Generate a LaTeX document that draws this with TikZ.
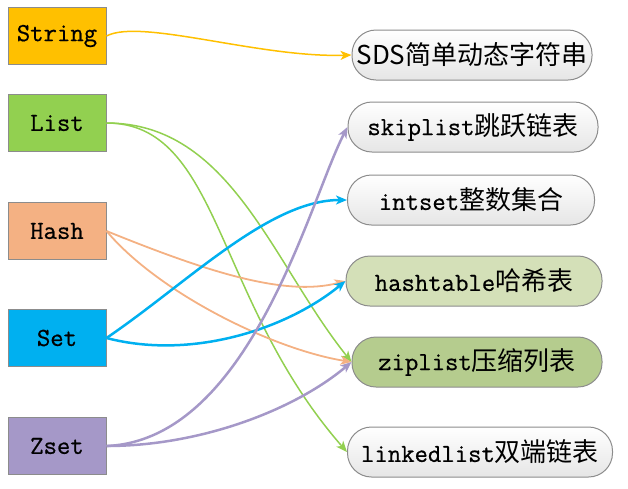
\documentclass[tikz,border=0pt]{standalone}
\usepackage{fontspec}
\newfontfamily\cjk{Noto Sans CJK SC}
\newfontfamily\latfont{Latin Modern Mono}[FakeBold=0.6]
\usetikzlibrary{arrows.meta}

\definecolor{strcol}{HTML}{FFC000}
\definecolor{listcol}{HTML}{92D050}
\definecolor{hashcol}{HTML}{F4B183}
\definecolor{setcol}{HTML}{00B0F0}
\definecolor{zsetcol}{HTML}{A598C8}
\definecolor{htcol}{HTML}{D4E0B8}
\definecolor{zlcol}{HTML}{B5CC8E}
\definecolor{edgecol}{HTML}{8C8C8C}

\tikzset{
  typebox/.style={draw=edgecol, line width=1pt, minimum width=98pt, minimum height=57pt,
    inner sep=0pt, font=\fontsize{26}{30}\selectfont\latfont},
  encpill/.style={draw=edgecol, line width=1pt, rounded corners=24pt, minimum height=50pt,
    inner sep=0pt, font=\fontsize{26}{30}\selectfont\latfont},
  greypill/.style={encpill, top color=white, bottom color=black!10},
  link/.style={line width=1.8pt, -{Stealth[length=11pt,width=9pt,inset=3pt]}},
  thicklink/.style={link, line width=2.5pt},
}

\begin{document}
\begin{tikzpicture}[x=1pt, y=-1pt]

  \useasboundingbox (0,0) rectangle (628,488);

  % data types
  \node[typebox, fill=strcol]  (string) at (57,36)  {String};
  \node[typebox, fill=listcol] (list)   at (57,123) {List};
  \node[typebox, fill=hashcol] (hash)   at (57,231) {Hash};
  \node[typebox, fill=setcol]  (set)    at (57,338) {Set};
  \node[typebox, fill=zsetcol] (zset)   at (57,446) {Zset};

  % encodings
  \node[greypill, minimum width=240pt] (sds)      at (472,55)  {{\cjk SDS简单动态字符串}};
  \node[greypill, minimum width=250pt] (skiplist) at (473,127) {skiplist{\cjk 跳跃链表}};
  \node[greypill, minimum width=247pt] (intset)   at (471,200) {intset{\cjk 整数集合}};
  \node[encpill, fill=htcol, minimum width=256pt] (hashtable) at (474,281) {hashtable{\cjk 哈希表}};
  \node[encpill, fill=zlcol, minimum width=250pt] (ziplist)   at (477,362) {ziplist{\cjk 压缩列表}};
  \node[greypill, minimum width=265pt] (linkedlist) at (480,452) {linkedlist{\cjk 双端链表}};

  % connectors
  \draw[link, strcol, line width=1.5pt] (string.east) .. controls +(34,-18) and +(-92,3) .. (sds.west);

  \draw[link, listcol, line width=1.5pt] (list.east) .. controls +(124,0) and +(-80,-100) .. (ziplist.west);
  \draw[link, listcol, line width=1.5pt] (list.east) .. controls +(114,0) and +(-133,-152) .. (linkedlist.west);

  \draw[link, hashcol] (hash.east) .. controls +(101,41) and +(-60,16) .. (hashtable.west);
  \draw[link, hashcol] (hash.east) .. controls +(51,61) and +(-80,-13) .. (ziplist.west);

  \draw[thicklink, setcol] (set.east) .. controls +(81,-55) and +(-78,0) .. (intset.west);
  \draw[thicklink, setcol] (set.east) .. controls +(84,22) and +(-60,49) .. (hashtable.west);

  \draw[thicklink, zsetcol] (zset.east) .. controls +(144,-6) and +(-38,73) .. (skiplist.west);
  \draw[thicklink, zsetcol] (zset.east) .. controls +(94,0) and +(-57,48) .. (ziplist.west);

\end{tikzpicture}
\end{document}
